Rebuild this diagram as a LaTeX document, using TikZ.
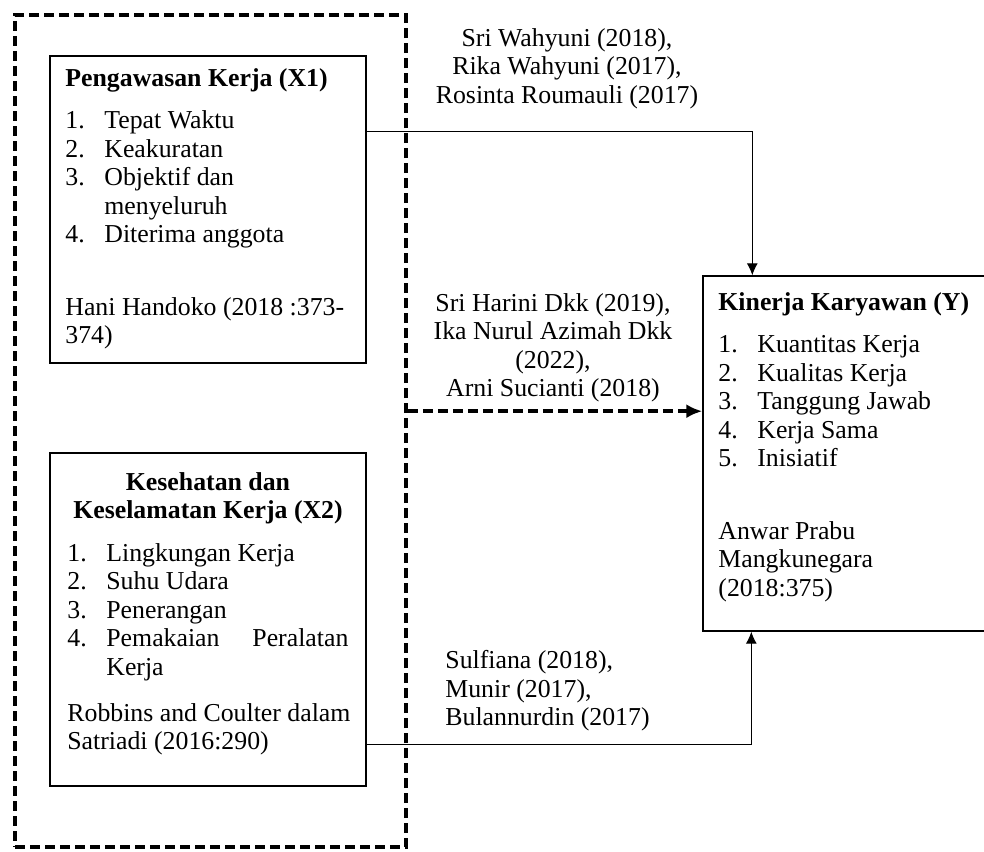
\documentclass[tikz,border=0pt]{standalone}
\usepackage{fontspec}
\setmainfont{Liberation Serif}
\usetikzlibrary{positioning,calc,arrows.meta}
\newcommand{\nmr}[1]{\makebox[19.5pt][l]{#1}}

\begin{document}
\begin{tikzpicture}[x=0.5pt,y=-0.5pt,
  kotak/.style={rectangle,draw,line width=0.7pt,anchor=center},
  teks/.style={inner sep=0pt,align=left,font=\fontsize{12.9}{14.25}\selectfont},
  panah/.style={line width=0.5pt,-{Latex[length=6pt,width=5.5pt]}},
  putus/.style={line width=1.8pt,dash pattern=on 5pt off 2.5pt}]
    \useasboundingbox (0,0) rectangle (984,851);
    \clip (0,0) rectangle (984,851);
    % kotak
    \node[kotak,putus,minimum width=195.5pt,minimum height=416pt] at (210.5,431) (grp) {};
    \node[kotak,minimum width=158pt,minimum height=153.5pt] at (208,209.5) (X1) {};
    \node[kotak,minimum width=158pt,minimum height=166.5pt] at (208,619.5) (X2) {};
    \node[kotak,minimum width=148.5pt,minimum height=177.5pt] at (851.5,453.5) (Y) {};
    % isi kotak
    \node[teks,anchor=north west] at (65,68) (tX1) {\textbf{Pengawasan Kerja (X1)}\\[7pt]
        \nmr{1.}Tepat Waktu\\ \nmr{2.}Keakuratan\\ \nmr{3.}Objektif dan\\ \nmr{}menyeluruh\\
        \nmr{4.}Diterima anggota\\[22pt] Hani Handoko (2018 :373-\\ 374)};
    \node[teks,align=center,anchor=north] at (208,472) (jX2) {\textbf{Kesehatan dan}\\ \textbf{Keselamatan Kerja (X2)}};
    \node[teks,anchor=north west] at (67,543) (tX2) {\nmr{1.}Lingkungan Kerja\\ \nmr{2.}Suhu Udara\\
        \nmr{3.}Penerangan\\ \nmr{4.}\makebox[121pt][s]{Pemakaian\hfill Peralatan}\\ \nmr{}Kerja\\[8.75pt]
        Robbins and Coulter dalam\\ Satriadi (2016:290)};
    \node[teks,anchor=north west] at (718,292) (tY) {\textbf{Kinerja Karyawan (Y)}\\[7pt]
        \nmr{1.}Kuantitas Kerja\\ \nmr{2.}Kualitas Kerja\\ \nmr{3.}Tanggung Jawab\\ \nmr{4.}Kerja Sama\\
        \nmr{5.}Inisiatif\\[22pt] Anwar Prabu\\ Mangkunegara\\ (2018:375)};
    % rujukan
    \node[teks,align=center,anchor=north] at (567,28) (r1) {Sri Wahyuni (2018),\\ Rika Wahyuni (2017),\\ Rosinta Roumauli (2017)};
    \node[teks,align=center,anchor=north] at (553,293) (r2) {Sri Harini Dkk (2019),\\ Ika Nurul Azimah Dkk\\ (2022),\\ Arni Sucianti (2018)};
    \node[teks,anchor=north west] at (445,650) (r3) {Sulfiana (2018),\\ Munir (2017),\\ Bulannurdin (2017)};
    % panah
    \draw[panah] ($(X1.north east)+(0,76)$) -| ($(Y.north west)+(50,0)$);
    \draw[panah] ($(X2.north east)+(0,292)$) -| ($(Y.south west)+(49,0)$);
    \coordinate (d) at ($(grp.north east)+(0,398)$);
    \draw[putus,-{Latex[length=8pt,width=7pt]}] (d) -- (d -| Y.west);
\end{tikzpicture}
\end{document}
